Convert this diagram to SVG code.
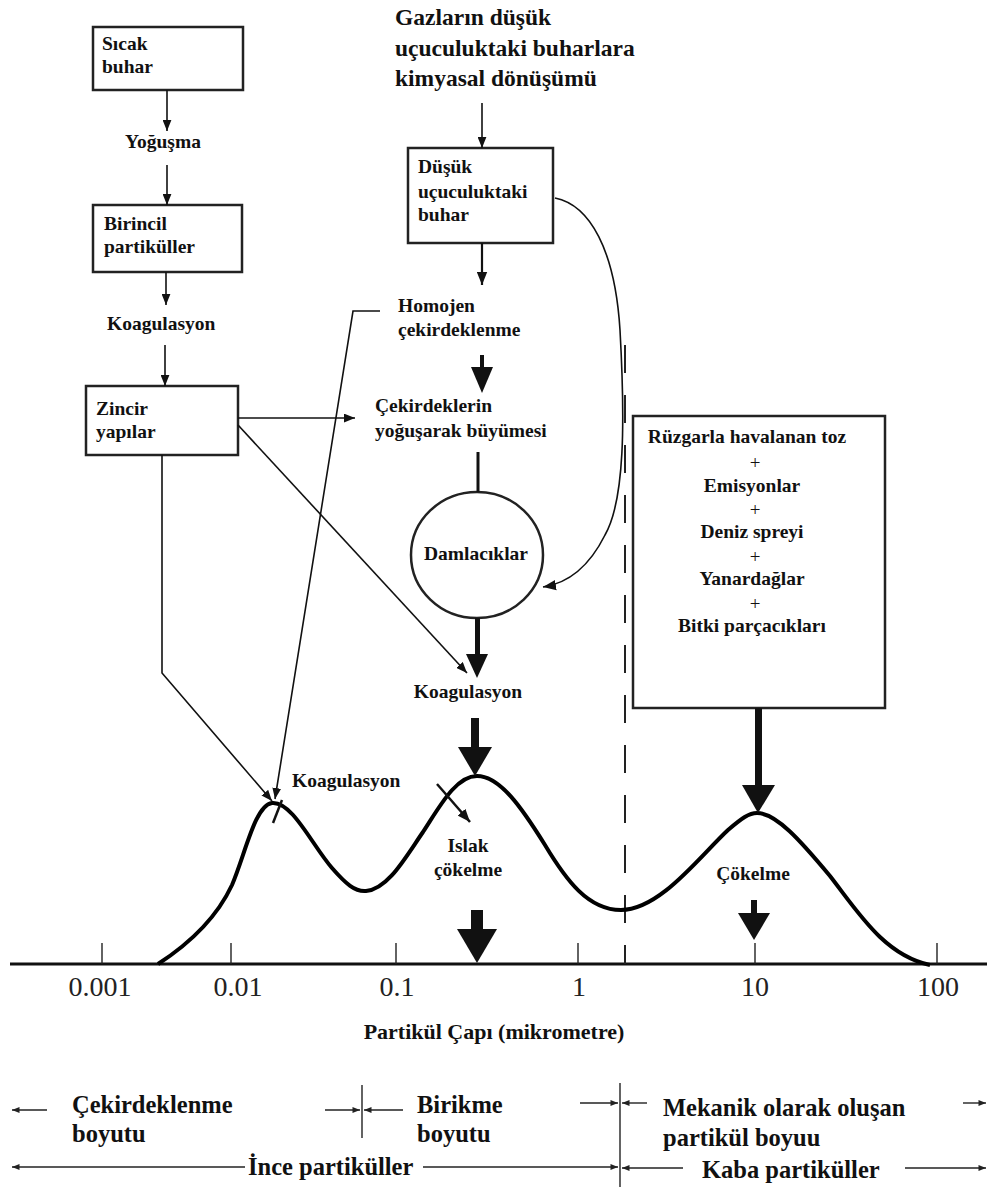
<svg xmlns="http://www.w3.org/2000/svg" width="987" height="1189" viewBox="0 0 987 1189">
<style>
.t{font-family:"Liberation Serif","Times New Roman",serif;font-weight:bold;fill:#111;}
.s{font-size:19.5px;}
.ti{font-size:23.5px;}
.b{font-size:24.5px;}
.ax{font-size:22px;}
.num{font-family:"Liberation Serif","Times New Roman",serif;font-size:28px;fill:#222;}
.plus{font-family:"Liberation Serif","Times New Roman",serif;font-size:19px;fill:#111;}
.box{fill:#fff;stroke:#222;stroke-width:2.5;}
.ln{fill:none;stroke:#111;stroke-width:1.6;}
.ln2{fill:none;stroke:#111;stroke-width:2.2;}
.thin{fill:none;stroke:#222;stroke-width:1.4;}
.blk{fill:#111;stroke:none;}
.curve{fill:none;stroke:#000;stroke-width:4;stroke-linejoin:round;}
</style>
<defs>
<marker id="ah" viewBox="0 0 10 8" refX="10" refY="4" markerWidth="11" markerHeight="9" markerUnits="userSpaceOnUse" orient="auto"><path d="M0,0 L10,4 L0,8 z" fill="#111"/></marker>
<marker id="ahm" viewBox="0 0 10 8" refX="10" refY="4" markerWidth="13" markerHeight="11" markerUnits="userSpaceOnUse" orient="auto"><path d="M0,0 L10,4 L0,8 z" fill="#111"/></marker>
<marker id="aht" viewBox="0 0 10 8" refX="10" refY="4" markerWidth="8" markerHeight="6" markerUnits="userSpaceOnUse" orient="auto"><path d="M0,0 L10,4 L0,8 z" fill="#222"/></marker>
</defs>

<!-- axis and curve -->
<g id="axis">
<line x1="10" y1="964" x2="987" y2="964" stroke="#111" stroke-width="3"/>
<g class="thin">
<line x1="102" y1="943" x2="102" y2="964"/>
<line x1="231" y1="943" x2="231" y2="964"/>
<line x1="396" y1="943" x2="396" y2="964"/>
<line x1="578" y1="943" x2="578" y2="964"/>
<line x1="755" y1="943" x2="755" y2="964"/>
<line x1="937" y1="943" x2="937" y2="964"/>
</g>
<line x1="625" y1="345" x2="625" y2="964" stroke="#222" stroke-width="2" stroke-dasharray="28 22"/>
<text class="num" x="100" y="996" text-anchor="middle">0.001</text>
<text class="num" x="238" y="996" text-anchor="middle">0.01</text>
<text class="num" x="397" y="996" text-anchor="middle">0.1</text>
<text class="num" x="579" y="996" text-anchor="middle">1</text>
<text class="num" x="755" y="996" text-anchor="middle">10</text>
<text class="num" x="938" y="996" text-anchor="middle">100</text>
<text class="t ax" x="494" y="1039" text-anchor="middle">Partikül Çapı (mikrometre)</text>
</g>

<g id="distribution">
<path class="curve" d="M158 964 C195 940 218 915 232 885 C245 855 255 805 272 803 C292 801 312 845 332 868 C346 884 355 892 366 891 C388 889 405 858 423 832 C440 806 456 776 477 776 C500 776 522 808 545 845 C566 880 588 910 621 910 C660 910 700 856 728 830 C742 818 749 813 757 813 C776 813 800 840 830 876 C858 912 884 955 930 965"/>
<line x1="273" y1="823" x2="282" y2="800" stroke="#111" stroke-width="2.5"/>
</g>

<!-- nodes -->
<g id="sicak-buhar">
<rect class="box" x="93" y="27" width="150" height="63"/>
<text class="t s" x="102" y="50">Sıcak</text>
<text class="t s" x="102" y="73">buhar</text>
</g>
<g id="yogusma"><text class="t s" x="163" y="148" text-anchor="middle">Yoğuşma</text></g>
<g id="birincil">
<rect class="box" x="93" y="205" width="149" height="67"/>
<text class="t s" x="104" y="230">Birincil</text>
<text class="t s" x="104" y="253">partiküller</text>
</g>
<g id="koag-1"><text class="t s" x="107" y="330">Koagulasyon</text></g>
<g id="zincir">
<rect class="box" x="86" y="386" width="152" height="69"/>
<text class="t s" x="96" y="415">Zincir</text>
<text class="t s" x="96" y="438">yapılar</text>
</g>

<g id="baslik">
<text class="t ti" x="395" y="25">Gazların düşük</text>
<text class="t ti" x="395" y="56">uçuculuktaki buharlara</text>
<text class="t ti" x="395" y="86">kimyasal dönüşümü</text>
</g>
<g id="dusuk-buhar">
<rect class="box" x="408" y="148" width="145" height="95"/>
<text class="t s" x="418" y="173">Düşük</text>
<text class="t s" x="418" y="198">uçuculuktaki</text>
<text class="t s" x="418" y="221">buhar</text>
</g>
<g id="homojen">
<text class="t s" x="398" y="312">Homojen</text>
<text class="t s" x="398" y="336">çekirdeklenme</text>
</g>
<g id="cekirdek-buyume">
<text class="t s" x="375" y="412">Çekirdeklerin</text>
<text class="t s" x="375" y="437">yoğuşarak büyümesi</text>
</g>
<g id="damlaciklar">
<ellipse class="box" cx="477" cy="555" rx="66" ry="63"/>
<text class="t s" x="476" y="560" text-anchor="middle">Damlacıklar</text>
</g>
<g id="koag-2"><text class="t s" x="468" y="698" text-anchor="middle">Koagulasyon</text></g>
<g id="koag-3"><text class="t s" x="292" y="787">Koagulasyon</text></g>
<g id="islak">
<text class="t s" x="468" y="852" text-anchor="middle">Islak</text>
<text class="t s" x="468" y="876" text-anchor="middle">çökelme</text>
</g>
<g id="kaynaklar">
<rect class="box" x="633" y="416" width="252" height="292"/>
<text class="t s" x="747" y="443" text-anchor="middle">Rüzgarla havalanan toz</text>
<text class="plus" x="755" y="469" text-anchor="middle">+</text>
<text class="t s" x="752" y="492" text-anchor="middle">Emisyonlar</text>
<text class="plus" x="755" y="516" text-anchor="middle">+</text>
<text class="t s" x="752" y="538" text-anchor="middle">Deniz spreyi</text>
<text class="plus" x="755" y="563" text-anchor="middle">+</text>
<text class="t s" x="752" y="585" text-anchor="middle">Yanardağlar</text>
<text class="plus" x="755" y="610" text-anchor="middle">+</text>
<text class="t s" x="752" y="632" text-anchor="middle">Bitki parçacıkları</text>
</g>
<g id="cokelme"><text class="t s" x="753" y="880" text-anchor="middle">Çökelme</text></g>

<!-- bottom legend -->
<g id="legend">
<text class="t b" x="72" y="1113">Çekirdeklenme</text>
<text class="t b" x="72" y="1142">boyutu</text>
<text class="t b" x="417" y="1113">Birikme</text>
<text class="t b" x="417" y="1142">boyutu</text>
<text class="t b" x="663" y="1116">Mekanik olarak oluşan</text>
<text class="t b" x="663" y="1146">partikül boyuu</text>
<text class="t b" x="248" y="1175">İnce partiküller</text>
<text class="t b" x="702" y="1178">Kaba partiküller</text>
<g class="thin">
<line x1="362" y1="1085" x2="362" y2="1138"/>
<line x1="620" y1="1083" x2="620" y2="1187"/>
<line x1="47" y1="1110" x2="12" y2="1110" marker-end="url(#aht)"/>
<line x1="325" y1="1110" x2="360" y2="1110" marker-end="url(#aht)"/>
<line x1="403" y1="1110" x2="364" y2="1110" marker-end="url(#aht)"/>
<line x1="580" y1="1103" x2="618" y2="1103" marker-end="url(#aht)"/>
<line x1="647" y1="1103" x2="622" y2="1103" marker-end="url(#aht)"/>
<line x1="963" y1="1103" x2="986" y2="1103" marker-end="url(#aht)"/>
<line x1="245" y1="1167" x2="12" y2="1167" marker-end="url(#aht)"/>
<line x1="423" y1="1167" x2="618" y2="1167" marker-end="url(#aht)"/>
<line x1="683" y1="1168" x2="622" y2="1168" marker-end="url(#aht)"/>
<line x1="905" y1="1168" x2="986" y2="1168" marker-end="url(#aht)"/>
</g>
</g>

<!-- connectors -->
<g id="connectors">
<line class="ln" x1="167" y1="90" x2="167" y2="131" marker-end="url(#ah)"/>
<line class="ln" x1="167" y1="165" x2="167" y2="205" marker-end="url(#ah)"/>
<line class="ln" x1="166" y1="272" x2="166" y2="305" marker-end="url(#ah)"/>
<line class="ln" x1="165" y1="345" x2="165" y2="386" marker-end="url(#ah)"/>
<line class="ln" x1="482" y1="103" x2="482" y2="148" marker-end="url(#ah)"/>
<line class="ln2" x1="482" y1="243" x2="482" y2="285" marker-end="url(#ahm)"/>
<line class="ln" x1="238" y1="418" x2="355" y2="418" marker-end="url(#ah)"/>
<line class="ln" x1="238" y1="425" x2="467" y2="673" marker-end="url(#ah)"/>
<polyline class="ln" points="162,455 162,673 272,801" marker-end="url(#ah)"/>
<polyline class="ln" points="380,311 353,311 275,799" marker-end="url(#ah)"/>
<path class="ln" d="M555 198 C590 205 615 250 620 330 C625 420 625 500 605 535 C590 565 570 583 543 587" marker-end="url(#ahm)"/>
<line x1="478" y1="452" x2="478" y2="492" stroke="#111" stroke-width="3"/>
<line x1="437" y1="784" x2="470" y2="822" stroke="#111" stroke-width="2.5" marker-end="url(#ahm)"/>
<!-- thick arrows -->
<rect class="blk" x="480" y="355" width="4" height="14"/>
<polygon class="blk" points="471,367 493,367 482,393"/>
<rect class="blk" x="475" y="618" width="5" height="38"/>
<polygon class="blk" points="466,654 488,654 477,678"/>
<rect class="blk" x="471" y="718" width="8" height="32"/>
<polygon class="blk" points="458,747 492,747 475,776"/>
<rect class="blk" x="471" y="910" width="12" height="22"/>
<polygon class="blk" points="457,929 497,929 477,963"/>
<rect class="blk" x="755" y="708" width="7" height="79"/>
<polygon class="blk" points="742,785 775,785 758,813"/>
<rect class="blk" x="751" y="900" width="6" height="15"/>
<polygon class="blk" points="738,913 770,913 754,940"/>
</g>
</svg>
